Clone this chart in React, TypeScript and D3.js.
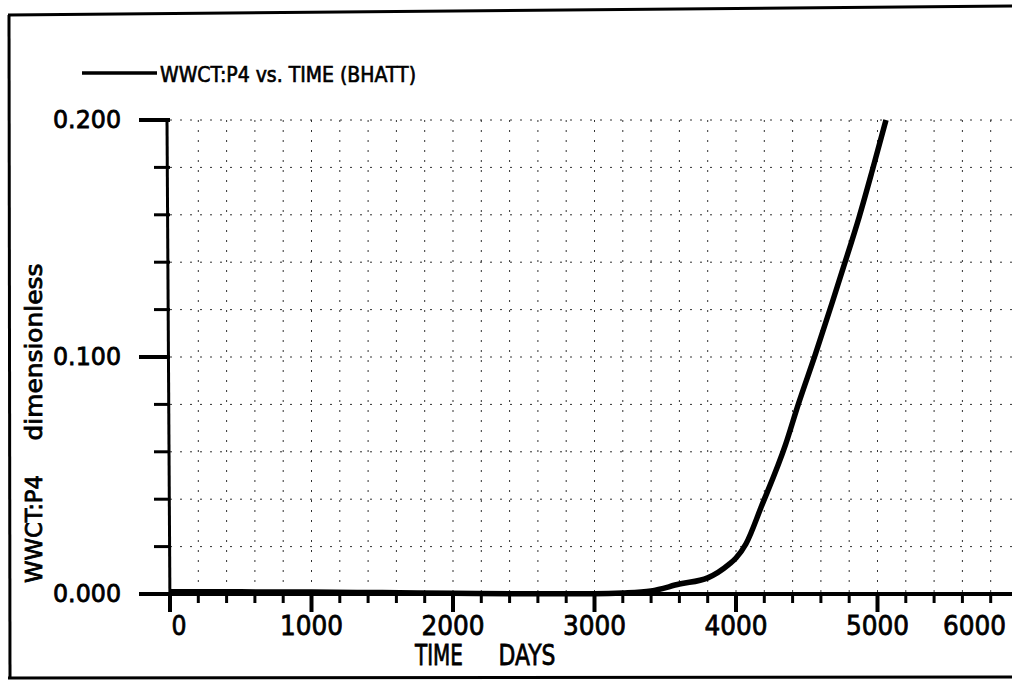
import React from "react";
import * as d3 from "d3";

// ---- data ----
const timeDays = [0, 500, 1000, 1500, 2000, 2500, 3000, 3200, 3400, 3600, 3800, 3950, 4000, 4070, 4180, 4350, 4440, 4560, 4680, 4760, 4870, 4960, 5060];
const wwctP4 = [0.0009, 0.0009, 0.0008, 0.0006, 0.0003, 0.0001, 0.0001, 0.0004, 0.0013, 0.0042, 0.0068, 0.0125, 0.0152, 0.0211, 0.037, 0.063, 0.08, 0.101, 0.123, 0.138, 0.159, 0.178, 0.2];
const xTickLabels = [0, 1000, 2000, 3000, 4000, 5000, 6000];
const yTickLabels = [0, 0.1, 0.2];
const legendText = "WWCT:P4 vs. TIME (BHATT)";
const xTitleA = "TIME";
const xTitleB = "DAYS";
const yTitleA = "WWCT:P4";
const yTitleB = "dimensionless";

const W = 1012;
const H = 681;

export default function App() {
  const x = d3.scaleLinear().domain([0, 1000]).range([170, 311.5]);
  const y = d3.scaleLinear().domain([0, 0.2]).range([594, 120]);
  const xMax = x.invert(W);

  const xMinor = d3.range(0, xMax, 200);
  const yMinor = d3.range(0, 0.2001, 0.02);
  const line = d3
    .line<number>()
    .x((_, i) => x(timeDays[i]))
    .y((d) => y(d))
    .curve(d3.curveMonotoneX);

  const font = "'DejaVu Sans', Verdana, sans-serif";
  const ink = { fill: "#000", stroke: "#000", strokeWidth: 0.8 };

  return (
    <div style={{ position: "absolute", left: 0, top: 0, background: "#fff" }}>
      <svg width={W} height={H} style={{ display: "block", background: "#fff" }}>
        {/* scanned frame */}
        <line x1={9} y1={15} x2={10} y2={679} stroke="#000" strokeWidth={3} />
        <line x1={8} y1={15} x2={W} y2={6} stroke="#000" strokeWidth={3} />
        <line x1={8} y1={678} x2={W} y2={677} stroke="#000" strokeWidth={3} />

        {/* legend */}
        <line x1={82} y1={73} x2={157} y2={73} stroke="#000" strokeWidth={3.5} />
        <text x={160} y={82} fontFamily={font} fontSize={21} {...ink} strokeWidth={0.7} textLength={256} lengthAdjust="spacingAndGlyphs">
          {legendText}
        </text>

        {/* grid */}
        <g stroke="#333" strokeWidth={1} strokeDasharray="2,8">
          {xMinor.filter((d) => d > 0).map((d) => (
            <line key={"gx" + d} x1={x(d)} x2={x(d)} y1={y(0.2)} y2={y(0)} />
          ))}
          {yMinor.filter((d) => d > 0.001).map((d) => (
            <line key={"gy" + d} x1={x(0)} x2={W} y1={y(d)} y2={y(d)} />
          ))}
        </g>

        {/* y axis */}
        <line x1={x(0) - 3} y1={y(0.2)} x2={x(0)} y2={y(0) + 18} stroke="#000" strokeWidth={3} />
        {yMinor.map((d, i) => {
          const major = i % 5 === 0;
          return (
            <line key={"yt" + i} x1={x(0) - (major ? 31 : 16)} x2={x(0)} y1={y(d)} y2={y(d)} stroke="#000" strokeWidth={major ? 4 : 3} />
          );
        })}
        {yTickLabels.map((d) => (
          <text key={"yl" + d} x={121} y={y(d) + 8} textAnchor="end" fontFamily={font} fontSize={24} {...ink} textLength={68} lengthAdjust="spacingAndGlyphs">
            {d3.format(".3f")(d)}
          </text>
        ))}

        {/* x axis */}
        <line x1={140} y1={y(0)} x2={W} y2={y(0)} stroke="#000" strokeWidth={4} />
        {xMinor.map((d, i) => {
          const major = i % 5 === 0;
          return (
            <line key={"xt" + i} x1={x(d)} x2={x(d)} y1={y(0)} y2={y(0) + (major ? 18 : 9)} stroke="#000" strokeWidth={major ? 4 : 3} />
          );
        })}
        {xTickLabels.map((d) => {
          const px = d === 0 ? x(d) + 9 : x(d);
          const over = px + 32 > W;
          return (
            <text key={"xl" + d} x={over ? W - 6 : px} y={635} textAnchor={over ? "end" : "middle"} fontFamily={font} fontSize={27} {...ink} textLength={d === 0 ? 15 : 63} lengthAdjust="spacingAndGlyphs">
              {d}
            </text>
          );
        })}
        <text x={439} y={665} textAnchor="middle" fontFamily={font} fontSize={28} {...ink} textLength={48} lengthAdjust="spacingAndGlyphs">
          {xTitleA}
        </text>
        <text x={527} y={665} textAnchor="middle" fontFamily={font} fontSize={28} {...ink} textLength={57} lengthAdjust="spacingAndGlyphs">
          {xTitleB}
        </text>

        {/* y title */}
        <text transform="translate(42,529) rotate(-90)" textAnchor="middle" fontFamily={font} fontSize={23} {...ink} textLength={108} lengthAdjust="spacingAndGlyphs">
          {yTitleA}
        </text>
        <text transform="translate(42,352) rotate(-90)" textAnchor="middle" fontFamily={font} fontSize={23} {...ink} textLength={177} lengthAdjust="spacingAndGlyphs">
          {yTitleB}
        </text>

        {/* series */}
        <path d={line(wwctP4) || ""} fill="none" stroke="#000" strokeWidth={5.5} strokeLinejoin="round" />
      </svg>
    </div>
  );
}
